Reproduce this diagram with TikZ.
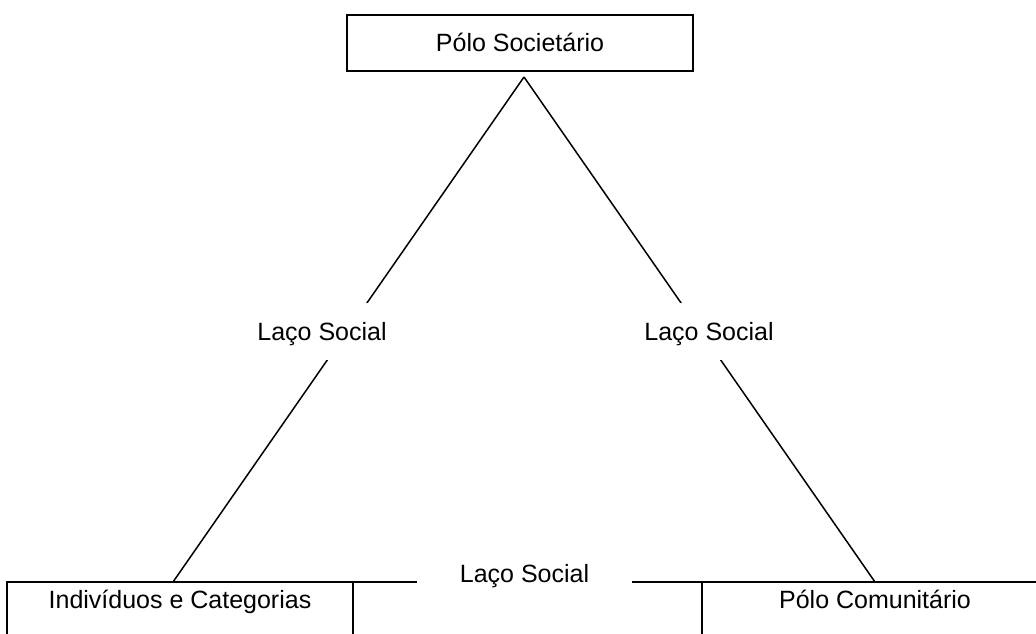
\documentclass[tikz,border=0pt]{standalone}
\usepackage{fontspec}
\setmainfont{Liberation Sans}
\usetikzlibrary{backgrounds}
\tikzset{
  pole/.style={draw, line width=2pt, outer sep=0pt, fill=white, minimum width=346pt, minimum height=56pt, text height=18pt, text depth=0pt},
  basepole/.style={pole, text depth=22pt},
  tie/.style={fill=white, inner sep=4pt, text height=18pt, text depth=0pt, minimum height=57pt},
  link/.style={line width=1.5pt}
}
\begin{document}
\begin{tikzpicture}[x=1pt, y=-1pt, font=\fontsize{25}{30}\selectfont]
        \useasboundingbox (0,0) rectangle (1036,634);
        \clip (0,0) rectangle (1036,634);
        % the three poles
        \node[pole] (soc) at (520,43) {Pólo Societário};
        \node[basepole] (ind) at (180,610) {Indivíduos e Categorias};
        \node[basepole] (com) at (875,610) {Pólo Comunitário};
        \coordinate (apex) at (524,77);
        % the ties between them
        \node[tie] (lsl) at (322,331.5) {Laço Social};
        \node[tie] (lsr) at (709,331.5) {Laço Social};
        \node[tie, minimum width=215pt, minimum height=30pt] (lsb) at (524.5,573) {Laço Social};
        \begin{scope}[on background layer]
            \draw[link] (apex) -- ([xshift=-7pt]ind.north);
            \draw[link] (apex) -- (com.north);
            \draw[line width=2pt] (ind.north east) -- (com.north west);
        \end{scope}
\end{tikzpicture}
\end{document}
